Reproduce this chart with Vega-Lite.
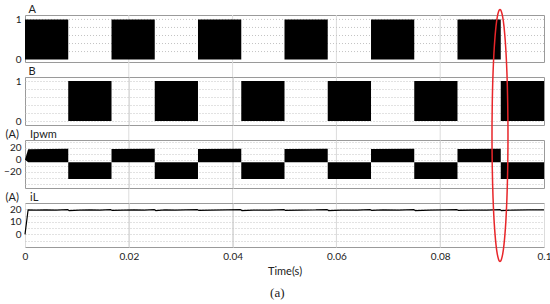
{
  "$schema": "https://vega.github.io/schema/vega-lite/v6.json",
  "background": "white",
  "padding": {"left": 3, "top": 2, "right": 0, "bottom": 2},
  "bounds": "flush",
  "spacing": 15,
  "config": {
    "font": "Lato",
    "view": {"stroke": "#9a9a9a", "strokeWidth": 1},
    "axis": {"labelFont": "Lato", "labelFontSize": 10, "labelColor": "#222", "ticks": false, "domain": false, "labelPadding": 4, "labelOverlap": false, "grid": true, "gridColor": "#c4c4c4", "gridDash": [1, 2], "titleFont": "Lato", "titleFontWeight": "normal", "titleFontSize": 11, "titleColor": "#222"},
    "axisX": {"gridDash": [], "gridColor": "#dcdcdc", "minExtent": 0},
    "axisY": {"minExtent": 20, "maxExtent": 20, "titleAngle": 0, "titleAlign": "left", "titleBaseline": "alphabetic", "titleY": -3}
  },
  "title": {"text": "(a)", "orient": "bottom", "font": "Liberation Serif", "fontSize": 13, "fontWeight": "normal", "color": "#222", "anchor": "middle", "offset": 10},
  "datasets": {
    "G": [
      {"g": 0.02},
      {"g": 0.04},
      {"g": 0.06},
      {"g": 0.08}
    ],
    "H": [
      {"h": 0.2},
      {"h": 0.4},
      {"h": 0.6},
      {"h": 0.8},
      {"h": 1}
    ],
    "A": [
      {"t0": 0, "t1": 0.00833, "lo": 0, "hi": 1},
      {"t0": 0.01667, "t1": 0.025, "lo": 0, "hi": 1},
      {"t0": 0.03333, "t1": 0.04167, "lo": 0, "hi": 1},
      {"t0": 0.05, "t1": 0.05833, "lo": 0, "hi": 1},
      {"t0": 0.06667, "t1": 0.075, "lo": 0, "hi": 1},
      {"t0": 0.08333, "t1": 0.09167, "lo": 0, "hi": 1}
    ],
    "B": [
      {"t0": 0.00833, "t1": 0.01667, "lo": 0, "hi": 1},
      {"t0": 0.025, "t1": 0.03333, "lo": 0, "hi": 1},
      {"t0": 0.04167, "t1": 0.05, "lo": 0, "hi": 1},
      {"t0": 0.05833, "t1": 0.06667, "lo": 0, "hi": 1},
      {"t0": 0.075, "t1": 0.08333, "lo": 0, "hi": 1},
      {"t0": 0.09167, "t1": 0.1, "lo": 0, "hi": 1}
    ],
    "I": [
      {"blk": 1, "t": 0, "hi": 0, "lo": 0},
      {"blk": 1, "t": 0.0006, "hi": 17.5, "lo": -4},
      {"blk": 1, "t": 0.00833, "hi": 18.5, "lo": -4},
      {"blk": 2, "t": 0.00833, "hi": -4, "lo": -32},
      {"blk": 2, "t": 0.01667, "hi": -4, "lo": -32},
      {"blk": 3, "t": 0.01667, "hi": 18, "lo": -4},
      {"blk": 3, "t": 0.025, "hi": 18.5, "lo": -4},
      {"blk": 4, "t": 0.025, "hi": -4, "lo": -32},
      {"blk": 4, "t": 0.03333, "hi": -4, "lo": -32},
      {"blk": 5, "t": 0.03333, "hi": 18, "lo": -4},
      {"blk": 5, "t": 0.04167, "hi": 18.5, "lo": -4},
      {"blk": 6, "t": 0.04167, "hi": -4, "lo": -32},
      {"blk": 6, "t": 0.05, "hi": -4, "lo": -32},
      {"blk": 7, "t": 0.05, "hi": 18, "lo": -4},
      {"blk": 7, "t": 0.05833, "hi": 18.5, "lo": -4},
      {"blk": 8, "t": 0.05833, "hi": -4, "lo": -32},
      {"blk": 8, "t": 0.06667, "hi": -4, "lo": -32},
      {"blk": 9, "t": 0.06667, "hi": 18, "lo": -4},
      {"blk": 9, "t": 0.075, "hi": 18.5, "lo": -4},
      {"blk": 10, "t": 0.075, "hi": -4, "lo": -32},
      {"blk": 10, "t": 0.08333, "hi": -4, "lo": -32},
      {"blk": 11, "t": 0.08333, "hi": 18, "lo": -4},
      {"blk": 11, "t": 0.09167, "hi": 18.5, "lo": -4},
      {"blk": 12, "t": 0.09167, "hi": -4, "lo": -32},
      {"blk": 12, "t": 0.1, "hi": -4, "lo": -32}
    ],
    "L": [
      {"t": 0, "v": 0},
      {"t": 0.0006, "v": 19.6},
      {"t": 0.002, "v": 19.4},
      {"t": 0.004, "v": 19.5},
      {"t": 0.006, "v": 19.3},
      {"t": 0.0082, "v": 19.8},
      {"t": 0.0085, "v": 19.0},
      {"t": 0.0105, "v": 19.4},
      {"t": 0.0125, "v": 19.5},
      {"t": 0.0145, "v": 19.3},
      {"t": 0.0165, "v": 19.7},
      {"t": 0.0168, "v": 19.1},
      {"t": 0.019, "v": 19.4},
      {"t": 0.021, "v": 19.5},
      {"t": 0.023, "v": 19.3},
      {"t": 0.0249, "v": 19.8},
      {"t": 0.0252, "v": 19.0},
      {"t": 0.027, "v": 19.5},
      {"t": 0.029, "v": 19.3},
      {"t": 0.031, "v": 19.5},
      {"t": 0.0332, "v": 19.7},
      {"t": 0.0335, "v": 19.1},
      {"t": 0.036, "v": 19.4},
      {"t": 0.039, "v": 19.5},
      {"t": 0.0415, "v": 19.8},
      {"t": 0.0418, "v": 19.0},
      {"t": 0.044, "v": 19.4},
      {"t": 0.047, "v": 19.3},
      {"t": 0.0499, "v": 19.7},
      {"t": 0.0502, "v": 19.1},
      {"t": 0.053, "v": 19.4},
      {"t": 0.056, "v": 19.5},
      {"t": 0.0582, "v": 19.8},
      {"t": 0.0585, "v": 19.0},
      {"t": 0.061, "v": 19.4},
      {"t": 0.064, "v": 19.3},
      {"t": 0.0665, "v": 19.7},
      {"t": 0.0668, "v": 19.1},
      {"t": 0.069, "v": 19.5},
      {"t": 0.072, "v": 19.4},
      {"t": 0.0749, "v": 19.8},
      {"t": 0.0752, "v": 19.0},
      {"t": 0.078, "v": 19.4},
      {"t": 0.081, "v": 19.5},
      {"t": 0.0832, "v": 19.7},
      {"t": 0.0835, "v": 19.1},
      {"t": 0.086, "v": 19.4},
      {"t": 0.089, "v": 19.3},
      {"t": 0.0915, "v": 19.8},
      {"t": 0.0918, "v": 19.0},
      {"t": 0.094, "v": 19.4},
      {"t": 0.097, "v": 19.5},
      {"t": 0.1, "v": 19.6}
    ],
    "E": [
      {"i": 0, "t": 0.09152, "v": 178.9},
      {"i": 1, "t": 0.091654, "v": 178.5},
      {"i": 2, "t": 0.091787, "v": 177.4},
      {"i": 3, "t": 0.092047, "v": 172.9},
      {"i": 4, "t": 0.09229, "v": 165.5},
      {"i": 5, "t": 0.092609, "v": 149.5},
      {"i": 6, "t": 0.092854, "v": 128.8},
      {"i": 7, "t": 0.093007, "v": 104.6},
      {"i": 8, "t": 0.09306, "v": 78.7},
      {"i": 9, "t": 0.093007, "v": 52.8},
      {"i": 10, "t": 0.092854, "v": 28.6},
      {"i": 11, "t": 0.092609, "v": 7.8},
      {"i": 12, "t": 0.09229, "v": -8.1},
      {"i": 13, "t": 0.092047, "v": -15.5},
      {"i": 14, "t": 0.091787, "v": -20.0},
      {"i": 15, "t": 0.091654, "v": -21.1},
      {"i": 16, "t": 0.09152, "v": -21.5},
      {"i": 17, "t": 0.091386, "v": -21.1},
      {"i": 18, "t": 0.091253, "v": -20.0},
      {"i": 19, "t": 0.090993, "v": -15.5},
      {"i": 20, "t": 0.09075, "v": -8.1},
      {"i": 21, "t": 0.090431, "v": 7.8},
      {"i": 22, "t": 0.090186, "v": 28.6},
      {"i": 23, "t": 0.090033, "v": 52.8},
      {"i": 24, "t": 0.08998, "v": 78.7},
      {"i": 25, "t": 0.090033, "v": 104.6},
      {"i": 26, "t": 0.090186, "v": 128.8},
      {"i": 27, "t": 0.090431, "v": 149.5},
      {"i": 28, "t": 0.09075, "v": 165.5},
      {"i": 29, "t": 0.090993, "v": 172.9},
      {"i": 30, "t": 0.091253, "v": 177.4},
      {"i": 31, "t": 0.091386, "v": 178.5},
      {"i": 32, "t": 0.09152, "v": 178.9}
    ]
  },
  "vconcat": [
    {
      "width": 519,
      "height": 47,
      "resolve": {"axis": {"x": "independent", "y": "independent"}},
      "layer": [
        {
          "data": {"name": "G"},
          "mark": {"type": "rule", "color": "#dcdcdc", "strokeWidth": 1},
          "encoding": {
            "x": {"field": "g", "type": "quantitative", "scale": {"domain": [0, 0.1], "nice": false, "zero": false}, "axis": null},
            "y": {"datum": 1.11, "type": "quantitative", "scale": {"domain": [-0.06, 1.11], "nice": false, "zero": false}, "axis": null},
            "y2": {"datum": -4.66}
          }
        },
        {
          "data": {"name": "H"},
          "mark": {"type": "rule", "color": "#c4c4c4", "strokeWidth": 1, "strokeDash": [1, 2]},
          "encoding": {
            "y": {"field": "h", "type": "quantitative", "axis": null}
          }
        },
        {
          "data": {"name": "A"},
          "mark": {"type": "rect", "color": "black"},
          "encoding": {
            "x": {"field": "t0", "type": "quantitative", "scale": {"domain": [0, 0.1], "nice": false, "zero": false}, "axis": {"values": [0.02, 0.04, 0.06, 0.08], "labels": false, "title": null}},
            "x2": {"field": "t1"},
            "y": {"field": "lo", "type": "quantitative", "scale": {"domain": [-0.06, 1.11], "nice": false, "zero": false}, "axis": {"values": [0, 0.2, 0.4, 0.6, 0.8, 1], "labelExpr": "datum.value == 0 || datum.value == 1 ? format(datum.value, 'd') : ''", "title": "A", "titleX": 3}},
            "y2": {"field": "hi"}
          }
        }
      ]
    },
    {
      "width": 519,
      "height": 48,
      "data": {"name": "B"},
      "mark": {"type": "rect", "color": "black"},
      "encoding": {
        "x": {"field": "t0", "type": "quantitative", "scale": {"domain": [0, 0.1], "nice": false, "zero": false}, "axis": {"values": [0.02, 0.04, 0.06, 0.08], "labels": false, "title": null}},
        "x2": {"field": "t1"},
        "y": {"field": "lo", "type": "quantitative", "scale": {"domain": [-0.1, 1.1], "nice": false, "zero": false}, "axis": {"values": [0, 0.2, 0.4, 0.6, 0.8, 1], "labelExpr": "datum.value == 0 || datum.value == 1 ? format(datum.value, 'd') : ''", "title": "B", "titleX": 3}},
        "y2": {"field": "hi"}
      }
    },
    {
      "width": 519,
      "height": 48,
      "data": {"name": "I"},
      "mark": {"type": "area", "color": "black", "opacity": 1},
      "encoding": {
        "x": {"field": "t", "type": "quantitative", "scale": {"domain": [0, 0.1], "nice": false, "zero": false}, "axis": {"values": [0.02, 0.04, 0.06, 0.08], "labels": false, "title": null}},
        "y": {"field": "hi", "type": "quantitative", "scale": {"domain": [-47, 33], "nice": false, "zero": false}, "axis": {"values": [-40, -30, -20, -10, 0, 10, 20, 30], "labelExpr": "datum.value == 0 || datum.value == 20 || datum.value == -20 ? format(datum.value, 'd') : ''", "title": "(A)\u00a0\u00a0\u00a0\u00a0Ipwm", "titleX": -20}},
        "y2": {"field": "lo"},
        "detail": {"field": "blk", "type": "nominal"}
      }
    },
    {
      "width": 519,
      "height": 44,
      "resolve": {"axis": {"x": "independent", "y": "independent"}},
      "layer": [
        {
          "data": {"name": "L"},
          "mark": {"type": "line", "color": "black", "strokeWidth": 1.2},
          "encoding": {
            "x": {"field": "t", "type": "quantitative", "scale": {"domain": [0, 0.1], "nice": false, "zero": false}, "axis": {"values": [0, 0.02, 0.04, 0.06, 0.08, 0.1], "format": "~g", "title": "Time(s)", "labelFlush": false, "titlePadding": 4, "titleFontSize": 11}},
            "y": {"field": "v", "type": "quantitative", "scale": {"domain": [-10, 25], "nice": false, "zero": false}, "axis": {"values": [-5, 0, 5, 10, 15, 20], "labelExpr": "datum.value == 0 || datum.value == 10 || datum.value == 20 ? format(datum.value, 'd') : ''", "title": "(A)\u00a0\u00a0\u00a0\u00a0iL", "titleX": -20}}
          }
        },
        {
          "data": {"name": "E"},
          "mark": {"type": "line", "color": "#e8262a", "strokeWidth": 1.5, "interpolate": "catmull-rom"},
          "encoding": {
            "x": {"field": "t", "type": "quantitative", "axis": null},
            "y": {"field": "v", "type": "quantitative", "axis": null},
            "order": {"field": "i", "type": "quantitative"}
          }
        }
      ]
    }
  ]
}
